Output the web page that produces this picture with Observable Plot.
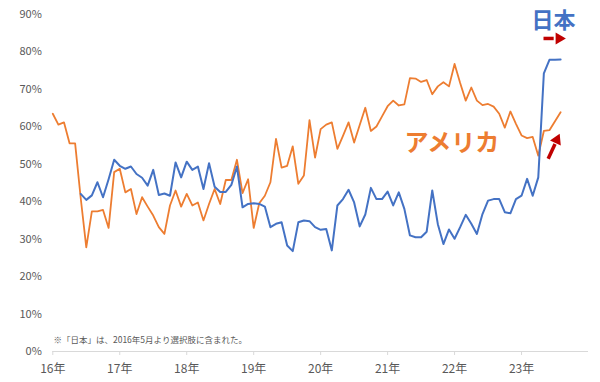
<!DOCTYPE html>
<html>
<head>
<meta charset="utf-8">
<script src="https://cdn.jsdelivr.net/npm/d3@7"></script>
<script src="https://cdn.jsdelivr.net/npm/@observablehq/plot@0.6"></script>
<style>
  body { margin: 0; background: #fff; }
  #chart { width: 600px; height: 382px; }
</style>
</head>
<body>
<div id="chart"></div>
<script>
// ---- data (monthly, from January 2016) ----
const startYear = 2016;
const usa = [
  63.5, 60.6, 61.2, 55.6, 55.6, 41.0, 27.8, 37.4, 37.4, 37.8, 33.0, 47.9,
  48.8, 42.5, 43.4, 36.7, 41.2, 38.7, 36.3, 33.2, 31.4, 39.0, 43.0, 38.7,
  42.1, 39.0, 39.8, 35.0, 39.4, 43.4, 39.4, 45.8, 45.8, 51.2, 42.3, 46.0,
  33.0, 39.6, 41.6, 45.2, 56.8, 49.1, 49.6, 54.8, 44.8, 47.0, 61.8, 51.8,
  59.4, 60.6, 61.2, 54.1, 57.6, 61.2, 55.8, 60.5, 65.1, 58.9, 60.1, 62.8,
  65.5, 67.0, 65.7, 66.0, 73.0, 72.9, 72.0, 72.5, 68.7, 70.8, 71.9, 70.8,
  76.8, 71.7, 67.0, 70.5, 67.0, 65.8, 66.1, 65.4, 63.5, 59.8, 64.1, 60.8,
  57.7, 57.0, 57.3, 52.3, 58.9, 59.1, 61.5, 63.9
];
const japanStartMonth = 5; // 選択肢に含まれた月（0 = 2016年1月）
const japan = [
                                    42.1, 40.5, 41.7, 45.2, 41.2, 46.0, 51.2,
  49.6, 48.8, 49.4, 47.4, 46.4, 44.3, 48.5, 41.8, 42.2, 41.6, 50.5, 46.5,
  50.7, 48.5, 49.4, 43.4, 50.3, 44.0, 42.6, 42.6, 44.5, 49.4, 38.5, 39.4,
  39.6, 39.4, 38.7, 33.2, 34.1, 34.5, 28.3, 26.8, 34.5, 35.0, 34.8, 33.2,
  32.5, 32.7, 27.0, 39.0, 40.7, 43.2, 39.8, 33.4, 36.6, 43.7, 40.7, 40.7,
  42.7, 39.0, 42.5, 38.1, 31.0, 30.5, 30.5, 32.0, 43.0, 34.0, 28.7, 32.6,
  30.1, 33.2, 36.5, 34.1, 31.4, 36.7, 40.3, 40.7, 40.7, 37.2, 36.9, 40.7,
  41.6, 46.1, 41.6, 46.5, 74.3, 77.9, 77.9, 78.0
];
const yearTicks = [2016, 2017, 2018, 2019, 2020, 2021, 2022, 2023];
const yearLabels = ["16年", "17年", "18年", "19年", "20年", "21年", "22年", "23年"];
const yTicks = [0, 10, 20, 30, 40, 50, 60, 70, 80, 90];
const yTickLabels = ["0%", "10%", "20%", "30%", "40%", "50%", "60%", "70%", "80%", "90%"];

// annotations (in data space: year, percent)
const seriesLabels = ["日本", "アメリカ"];
const seriesLabelX = [2023.478, 2021.96];
const seriesLabelY = [88.4, 55.5];
const seriesLabelSize = [22, 24];
const noteText = "※「日本」は、2016年5月より選択肢に含まれた。";
const noteX = 2016.01, noteY = 2.9;
const arrowX1 = [2023.328, 2023.398];
const arrowY1 = [83.6, 51.5];
const arrowX2 = [2023.48, 2023.50];
const arrowY2 = [83.6, 55.4];
const arrowHeadX = [2023.56, 2023.527];
const arrowHeadY = [83.6, 56.5];
const arrowHeadRotate = [90, 24.5];

// ---- build tables ----
const usaData = usa.map((v, i) => ({ x: startYear + i / 12, y: v }));
const japanData = japan.map((v, i) => ({ x: startYear + (japanStartMonth + i) / 12, y: v }));
const labelData = seriesLabels.map((t, i) => ({ t, x: seriesLabelX[i], y: seriesLabelY[i], s: seriesLabelSize[i], c: i === 0 ? "#4472C4" : "#ED7D31" }));
const arrowData = arrowX1.map((x1, i) => ({ x1, y1: arrowY1[i], x2: arrowX2[i], y2: arrowY2[i], hx: arrowHeadX[i], hy: arrowHeadY[i], r: arrowHeadRotate[i] }));

const font = "'Noto Sans CJK JP', 'Noto Sans', sans-serif";

const chart = Plot.plot({
  width: 600,
  height: 382,
  marginLeft: 52.3,
  marginRight: 12,
  marginTop: 14,
  marginBottom: 31,
  style: { fontFamily: font, background: "#fff", overflow: "visible" },
  x: { domain: [2016, 2024], label: null },
  y: { domain: [0, 90], label: null },
  marks: [
    Plot.ruleY([0], { stroke: "#d9d9d9", strokeWidth: 1 }),
    Plot.axisX({
      ticks: yearTicks,
      tickFormat: d => yearLabels[yearTicks.indexOf(d)],
      tickSize: 4, tickPadding: 9,
      stroke: "#d9d9d9", fill: "#595959", fontSize: 12, label: null
    }),
    Plot.axisY({
      ticks: yTicks,
      tickFormat: d => yTickLabels[yTicks.indexOf(d)],
      tickSize: 0, tickPadding: 11,
      fill: "#595959", fontSize: 11, label: null
    }),
    Plot.line(usaData, { x: "x", y: "y", stroke: "#ED7D31", strokeWidth: 1.8 }),
    Plot.line(japanData, { x: "x", y: "y", stroke: "#4472C4", strokeWidth: 2 }),
    Plot.text(labelData.slice(0, 1), {
      x: "x", y: "y", text: "t", fill: "c",
      fontSize: seriesLabelSize[0], fontWeight: "bold", fontFamily: font
    }),
    Plot.text(labelData.slice(1), {
      x: "x", y: "y", text: "t", fill: "c",
      fontSize: seriesLabelSize[1], fontWeight: "bold", fontFamily: font
    }),
    Plot.text([noteText], {
      x: noteX, y: noteY, text: d => d, textAnchor: "start",
      fill: "#595959", fontSize: 8.5, fontFamily: font
    }),
    Plot.link(arrowData, {
      x1: "x1", y1: "y1", x2: "x2", y2: "y2",
      stroke: "#C00000", strokeWidth: 3.5, strokeLinecap: "butt"
    }),
    Plot.dot(arrowData, {
      x: "hx", y: "hy", rotate: "r", symbol: "triangle",
      r: 4.4, fill: "#C00000", stroke: "none"
    })
  ]
});
document.getElementById("chart").appendChild(chart);
</script>
</body>
</html>
